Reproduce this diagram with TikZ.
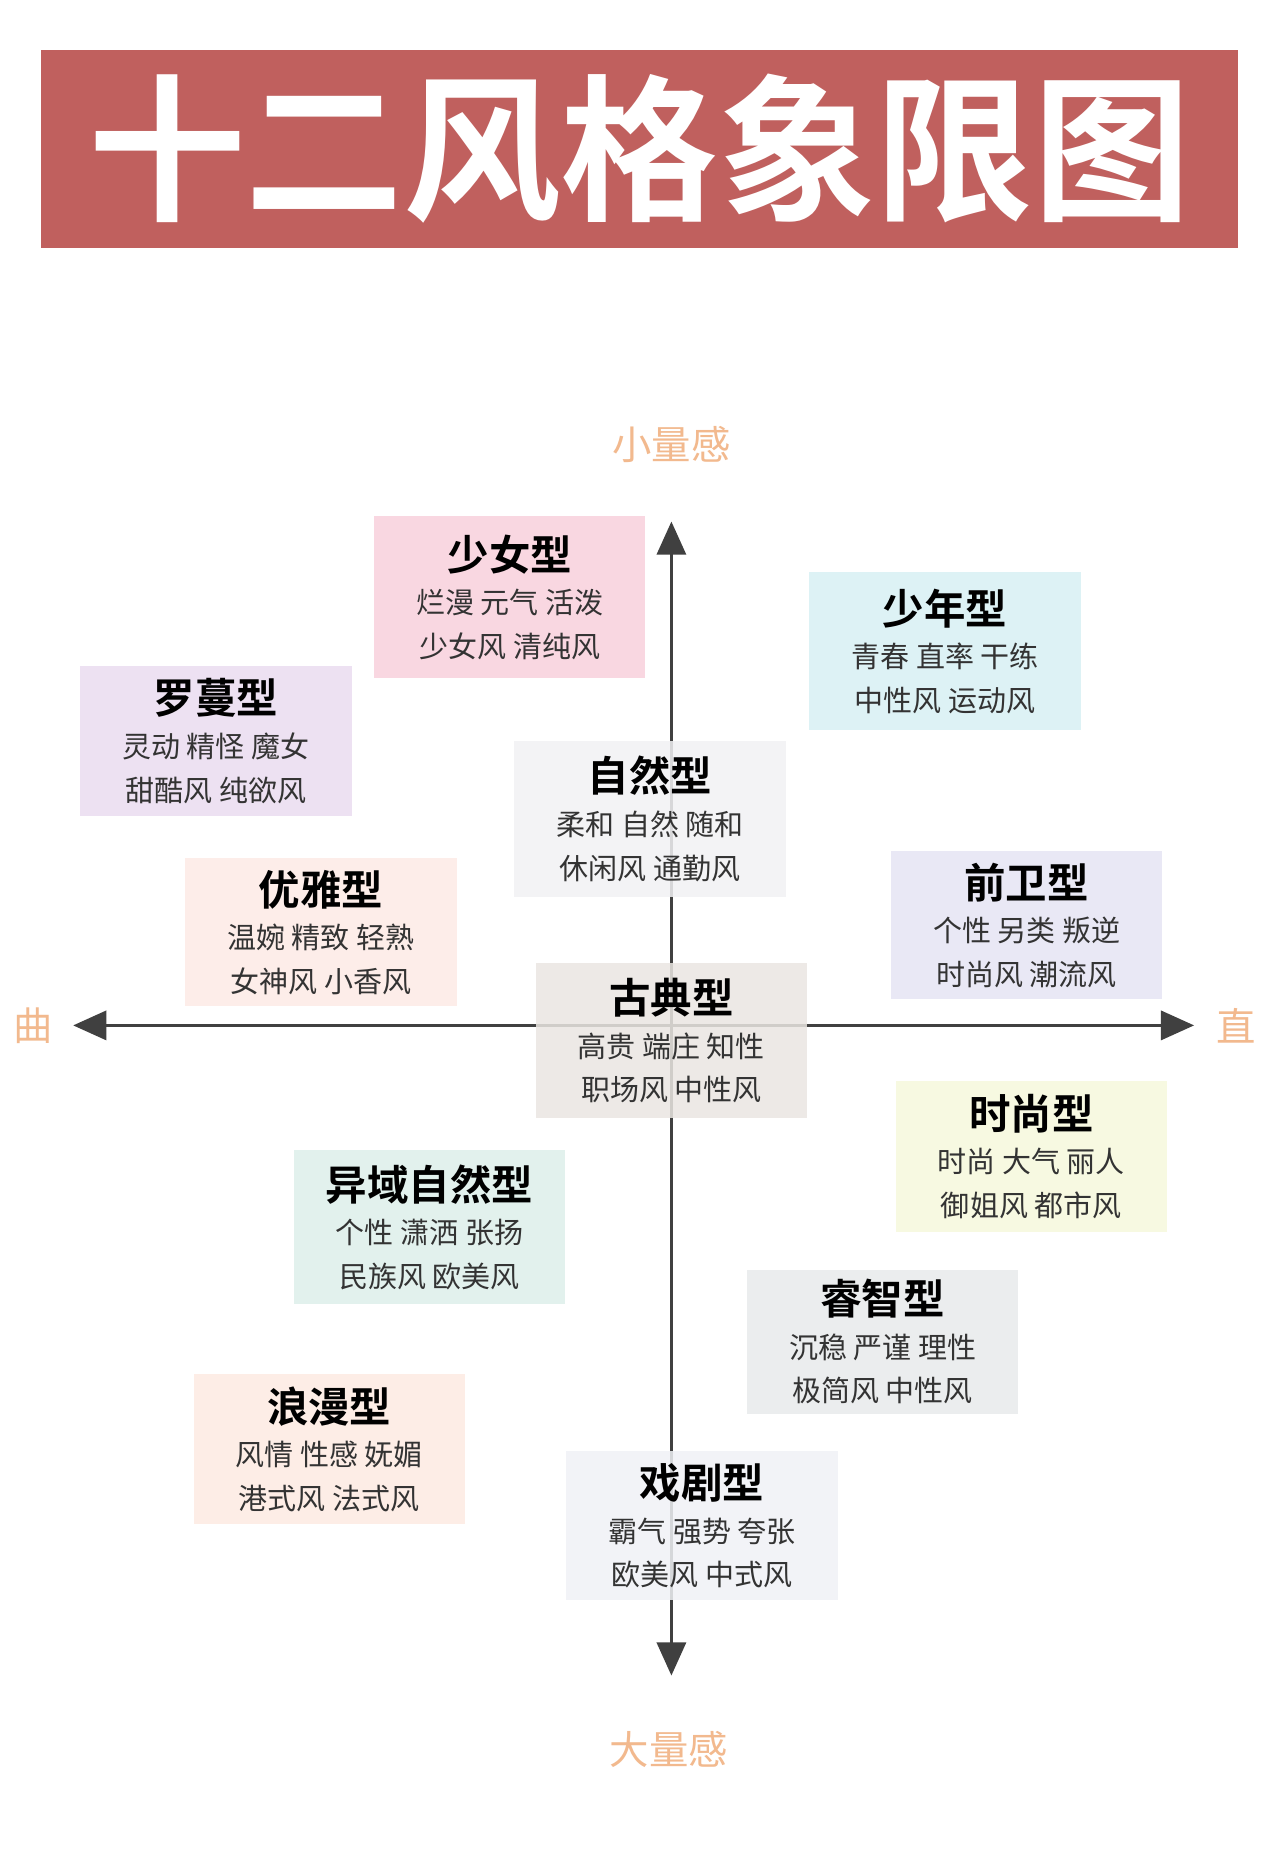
\documentclass[tikz,border=0pt]{standalone}
\usepackage{fontspec}
\setmainfont{Noto Sans CJK SC}[BoldFont={Noto Sans CJK SC Bold}]
\usepackage{tikz}
\usetikzlibrary{arrows.meta,positioning}
\definecolor{titlered}{HTML}{C0605E}
\definecolor{axislabel}{HTML}{F2B98E}
\definecolor{cshaonv}{HTML}{F8D0DC}
\definecolor{cshaonian}{HTML}{D8F0F4}
\definecolor{cluoman}{HTML}{EADCF0}
\definecolor{cziran}{HTML}{F2F2F4}
\definecolor{cyouya}{HTML}{FDEAE6}
\definecolor{cqianwei}{HTML}{E6E4F4}
\definecolor{cgudian}{HTML}{EAE6E2}
\definecolor{cshishang}{HTML}{F6F8DC}
\definecolor{cyiyu}{HTML}{DDEFEA}
\definecolor{cruizhi}{HTML}{E8EAEC}
\definecolor{clangman}{HTML}{FDEBE2}
\definecolor{cxiju}{HTML}{F0F2F6}
\tikzset{
  stylebox/.style={fill=#1,fill opacity=.85,text opacity=1,minimum width=4.6cm,
    minimum height=2.55cm,align=center,inner sep=2pt,font=\fontsize{14}{21}\selectfont,text=black!80},
  axis/.style={draw,line width=1.6pt,black!75,{Triangle[length=16pt,width=14pt]}-{Triangle[length=16pt,width=14pt]}},
  axis label/.style={text=axislabel,font=\fontsize{19}{22}\selectfont}
}
\newcommand{\boxtitle}[1]{{\fontsize{20}{26}\selectfont\bfseries\color{black}#1}\\}
\begin{document}
\begin{tikzpicture}[x=0.02cm,y=-0.02cm]
  \useasboundingbox (0,0) rectangle (1085,1567);
  \fill[white] (0,0) rectangle (1085,1567);
  % title
  \node[fill=titlered,minimum width=20.3cm,minimum height=3.36cm,text=white,
    font=\fontsize{76}{80}\selectfont\bfseries] (title) at (542,126) {十二风格象限图};
  % axes
  \coordinate (left) at (62,869);
  \coordinate (right) at (1012,869);
  \coordinate (top) at (569,442);
  \coordinate (bottom) at (569,1420);
  \draw[axis] (left) -- (right);
  \draw[axis] (bottom) -- (top);
  \node[axis label] (small) at (569,377) {小量感};
  \node[axis label] (large) at (567,1483) {大量感};
  \node[axis label] (curve) at (28,869) {曲};
  \node[axis label] (straight) at (1048,869) {直};
  % style boxes
  \node[stylebox=cshaonv,minimum height=2.76cm] (shaonv) at (432,506) {\boxtitle{少女型}烂漫 元气 活泼\\少女风 清纯风};
  \node[stylebox=cshaonian,minimum height=2.68cm] (shaonian) at (801,552) {\boxtitle{少年型}青春 直率 干练\\中性风 运动风};
  \node[stylebox=cluoman] (luoman) at (183,628) {\boxtitle{罗蔓型}灵动 精怪 魔女\\甜酷风 纯欲风};
  \node[stylebox=cziran,minimum height=2.64cm] (ziran) at (551,694) {\boxtitle{自然型}柔和 自然 随和\\休闲风 通勤风};
  \node[stylebox=cyouya,minimum height=2.5cm] (youya) at (272,790) {\boxtitle{优雅型}温婉 精致 轻熟\\女神风 小香风};
  \node[stylebox=cqianwei,minimum height=2.52cm] (qianwei) at (870,784) {\boxtitle{前卫型}个性 另类 叛逆\\时尚风 潮流风};
  \node[stylebox=cgudian,minimum height=2.62cm] (gudian) at (569,882) {\boxtitle{古典型}高贵 端庄 知性\\职场风 中性风};
  \node[stylebox=cshishang] (shishang) at (874,980) {\boxtitle{时尚型}时尚 大气 丽人\\御姐风 都市风};
  \node[stylebox=cyiyu,minimum height=2.6cm] (yiyu) at (364,1040) {\boxtitle{异域自然型}个性 潇洒 张扬\\民族风 欧美风};
  \node[stylebox=cruizhi,minimum height=2.44cm] (ruizhi) at (748,1137) {\boxtitle{睿智型}沉稳 严谨 理性\\极简风 中性风};
  \node[stylebox=clangman] (langman) at (279,1228) {\boxtitle{浪漫型}风情 性感 妩媚\\港式风 法式风};
  \node[stylebox=cxiju,minimum height=2.52cm] (xiju) at (595,1293) {\boxtitle{戏剧型}霸气 强势 夸张\\欧美风 中式风};
\end{tikzpicture}
\end{document}
